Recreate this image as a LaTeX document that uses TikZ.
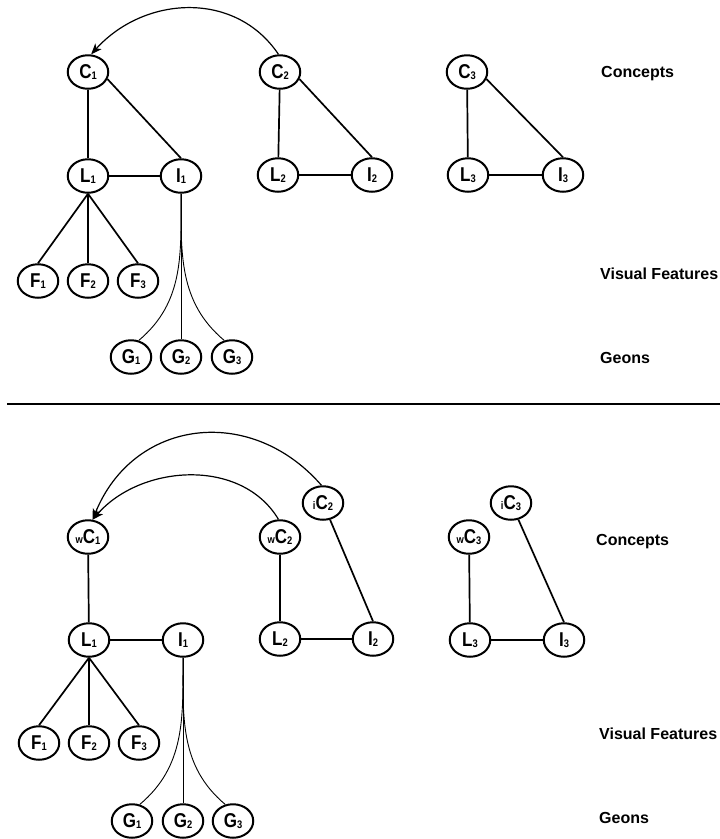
\documentclass[tikz,border=0pt]{standalone}
\usepackage{fontspec}
\setmainfont{Liberation Sans}
\newfontfamily\labfont[FakeStretch=0.85]{Liberation Sans}
\usetikzlibrary{shapes.geometric,arrows.meta}
\newcommand\sbs[1]{\raisebox{-1pt}{\fontsize{11}{11}\selectfont #1}}
\newcommand\pfx[1]{{\fontsize{11}{11}\selectfont #1}}
\tikzset{
  nd/.style={ellipse,draw,line width=2pt,minimum width=40.5pt,minimum height=33.5pt,inner sep=0pt,
    font=\labfont\bfseries\fontsize{20}{20}\selectfont},
  edge/.style={line width=1.7pt},
  thinedge/.style={line width=0.9pt},
  arc/.style={line width=1.2pt,-{Stealth[length=11pt,width=8.5pt,inset=3pt]}},
  lbl/.style={anchor=base west,inner sep=0pt,font=\bfseries\fontsize{16}{16}\selectfont},
}
\begin{document}
\begin{tikzpicture}[x=1pt,y=1pt]
\useasboundingbox (0,0) rectangle (720,-839);
% ---------------- top half ----------------
\node[nd] (C1) at (88,-72) {C\sbs{1}};
\node[nd] (C2) at (280,-72) {C\sbs{2}};
\node[nd] (C3) at (467,-72) {C\sbs{3}};
\node[nd] (L1) at (88,-176) {L\sbs{1}};
\node[nd] (I1) at (181,-176) {I\sbs{1}};
\node[nd] (L2) at (278,-175) {L\sbs{2}};
\node[nd] (I2) at (372,-175) {I\sbs{2}};
\node[nd] (L3) at (468,-175) {L\sbs{3}};
\node[nd] (I3) at (563,-175) {I\sbs{3}};
\node[nd] (F1) at (38,-281) {F\sbs{1}};
\node[nd] (F2) at (88,-281) {F\sbs{2}};
\node[nd] (F3) at (138,-281) {F\sbs{3}};
\node[nd] (G1) at (131,-357) {G\sbs{1}};
\node[nd] (G2) at (181,-357) {G\sbs{2}};
\node[nd] (G3) at (232,-357) {G\sbs{3}};

\draw[edge] (C1) -- (L1);
\draw[edge] (C1.-20) -- (I1.north);
\draw[edge] (L1) -- (I1);
\draw[edge] (C2) -- (L2);
\draw[edge] (C2.-20) -- (I2.north);
\draw[edge] (L2) -- (I2);
\draw[edge] (C3) -- (L3);
\draw[edge] (C3.-20) -- (I3.north);
\draw[edge] (L3) -- (I3);
\draw[edge] (L1.south) -- (F1.north);
\draw[edge] (L1.south) -- (F2.north);
\draw[edge] (L1.south) -- (F3.north);
\draw[thinedge] (I1.south) to[out=-90,in=40] (G1.65);
\draw[thinedge] (I1.south) -- (G2.north);
\draw[thinedge] (I1.south) to[out=-90,in=140] (G3.115);
\draw[arc] (C2.95) to[out=124,in=48,looseness=1.07] (C1.80);

\node[lbl] (t1) at (601,-77) {Concepts};
\node[lbl] (t2) at (600,-279.5) {Visual Features};
\node[lbl] (t3) at (600,-363) {Geons};

% separator
\draw[line width=2pt] (7,-404) -- (720,-404);

% ---------------- bottom half ----------------
\node[nd] (wC1) at (88,-537) {\pfx{w}C\sbs{1}};
\node[nd] (wC2) at (280,-537) {\pfx{w}C\sbs{2}};
\node[nd] (iC2) at (323,-503) {\pfx{i}C\sbs{2}};
\node[nd] (wC3) at (469,-537) {\pfx{w}C\sbs{3}};
\node[nd] (iC3) at (511,-503) {\pfx{i}C\sbs{3}};
\node[nd] (bL1) at (89,-640) {L\sbs{1}};
\node[nd] (bI1) at (183,-640) {I\sbs{1}};
\node[nd] (bL2) at (280,-639) {L\sbs{2}};
\node[nd] (bI2) at (373,-639) {I\sbs{2}};
\node[nd] (bL3) at (470,-640) {L\sbs{3}};
\node[nd] (bI3) at (564,-640) {I\sbs{3}};
\node[nd] (bF1) at (39,-743) {F\sbs{1}};
\node[nd] (bF2) at (89,-743) {F\sbs{2}};
\node[nd] (bF3) at (139,-743) {F\sbs{3}};
\node[nd] (bG1) at (132,-821) {G\sbs{1}};
\node[nd] (bG2) at (183,-821) {G\sbs{2}};
\node[nd] (bG3) at (233,-821) {G\sbs{3}};

\draw[edge] (wC1) -- (bL1);
\draw[edge] (bL1) -- (bI1);
\draw[edge] (wC2) -- (bL2);
\draw[edge] (bL2) -- (bI2);
\draw[edge] (iC2) -- (bI2.north);
\draw[edge] (wC3) -- (bL3);
\draw[edge] (bL3) -- (bI3);
\draw[edge] (iC3) -- (bI3.north);
\draw[edge] (bL1.south) -- (bF1.north);
\draw[edge] (bL1.south) -- (bF2.north);
\draw[edge] (bL1.south) -- (bF3.north);
\draw[thinedge] (bI1.south) to[out=-90,in=40] (bG1.65);
\draw[thinedge] (bI1.south) -- (bG2.north);
\draw[thinedge] (bI1.south) to[out=-90,in=140] (bG3.115);
\draw[arc] (iC2.95) to[out=131,in=68,looseness=1.2] (wC1.75);
\draw[arc] (wC2.95) to[out=121,in=49,looseness=1.0] (wC1.75);

\node[lbl] (b1) at (596,-545) {Concepts};
\node[lbl] (b2) at (599,-739) {Visual Features};
\node[lbl] (b3) at (599,-823) {Geons};
\end{tikzpicture}
\end{document}
